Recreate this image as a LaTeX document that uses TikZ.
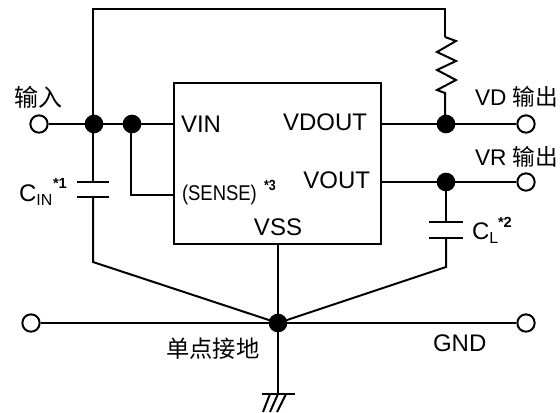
\documentclass[tikz,border=0pt]{standalone}
\usepackage{fontspec}
\setmainfont{Liberation Sans}
\newfontfamily\cjk{Noto Sans CJK SC}
\begin{document}
\begin{tikzpicture}[x=0.75pt, y=-0.75pt, line width=1.5pt,
  dot/.style={circle, fill=black, inner sep=0pt, minimum size=14pt},
  port/.style={circle, draw, fill=white, inner sep=0pt, minimum size=13pt},
  corner/.style={coordinate},
  label/.style={inner sep=0pt, font=\fontsize{18pt}{18pt}\selectfont},
  outlabel/.style={inner sep=0pt, font=\fontsize{17pt}{17pt}\selectfont},
  star/.style={inner sep=0pt, font=\fontsize{11pt}{11pt}\selectfont\bfseries}]

  \useasboundingbox (0,0) rectangle (560,412);

  % IC block
  \node[draw, minimum width=155.25pt, minimum height=120.75pt, inner sep=0pt] (IC) at (277.5,163.5) {};

  % Ports
  \node[port] (IN) at (39,124) {};
  \node[port] (VD) at (526,124) {};
  \node[port] (VR) at (526,182) {};
  \node[port] (GL) at (31,323) {};
  \node[port] (GR) at (526,323) {};

  % Corners
  \node[corner] (T1) at (93,9) {};
  \node[corner] (T2) at (445,9) {};
  \node[corner] (R1) at (445,37) {};
  \node[corner] (R2) at (445,93) {};
  \node[corner] (S1) at (174,195) {};
  \node[corner] (S2) at (131,195) {};
  \node[corner] (PIN) at (174,124) {};
  \node[corner] (POUT) at (381,124) {};
  \node[corner] (POV) at (381,182) {};
  \node[corner] (CI1) at (93,182) {};
  \node[corner] (CI2) at (93,197) {};
  \node[corner] (CI3) at (93,262) {};
  \node[corner] (CL1) at (446,222) {};
  \node[corner] (CL2) at (446,238) {};
  \node[corner] (CL3) at (446,267) {};
  \node[corner] (G0) at (278,394) {};

  % Wires
  \draw (IN) -- (PIN);
  \draw (93,124) -- (T1) -- (T2) -- (R1);
  \draw (R1) -- (456,41) -- (437,52) -- (456,61) -- (437,70) -- (456,80) -- (437,90) -- (R2) -- (445,124);
  \draw (131,124) -- (S2) -- (S1);
  \draw (POUT) -- (VD);
  \draw (POV) -- (VR);
  \draw (93,124) -- (CI1);
  \draw (CI2) -- (CI3) -- (278,323);
  \draw (446,182) -- (CL1);
  \draw (CL2) -- (CL3) -- (278,323);
  \draw (GL) -- (GR);
  \draw (278,244) -- (G0);

  % Junctions
  \node[dot] (J1) at (94,124) {};
  \node[dot] (J2) at (132,124) {};
  \node[dot] (J3) at (446,124) {};
  \node[dot] (J4) at (446,182) {};
  \node[dot] (J5) at (278,323) {};

  % Capacitor plates
  \draw (77,182) -- (109,182);
  \draw (77,197) -- (109,197);
  \draw (429,222) -- (463,222);
  \draw (429,238) -- (463,238);

  % Ground
  \draw (262,394) -- (295,394);
  \draw (270,394) -- (263,412);
  \draw (278,394) -- (270,412);
  \draw (286,394) -- (277,412);

  % Labels
  \node[label, anchor=west] (LVIN) at (180,124) {VIN};
  \node[label, anchor=east] (LVDOUT) at (368,122) {VDOUT};
  \node[label, anchor=east] (LVOUT) at (371,180) {VOUT};
  \node[label] (LVSS) at (278,227) {VSS};
  \node[label, anchor=west, font=\fontsize{16pt}{16pt}\selectfont] (LSENSE) at (181,195) {\scalebox{.865}[1]{(SENSE)}};
  \node[star, anchor=west] (LS3) at (263,185) {\scalebox{.85}[1]{*3}};
  \node[label, anchor=west] (LIN) at (13,97) {\cjk 输入};
  \node[outlabel, anchor=west] (LVD) at (474,97) {VD \cjk 输出};
  \node[outlabel, anchor=west] (LVR) at (474,157) {VR \cjk 输出};
  \node[label, anchor=west] (LGND) at (432,343) {GND};
  \node[outlabel, anchor=west, font=\fontsize{17.5pt}{17.5pt}\selectfont] (LGG) at (165,349) {\cjk 单点接地};
  \node[label, anchor=west] (LCIN) at (18,195) {C\raisebox{-3pt}{\fontsize{12pt}{12pt}\selectfont IN}};
  \node[star, anchor=west] (LS1) at (52,183) {*1};
  \node[label, anchor=west] (LCL) at (471,233) {C\raisebox{-3pt}{\fontsize{12pt}{12pt}\selectfont L}};
  \node[star, anchor=west] (LS2) at (497,222) {*2};

\end{tikzpicture}
\end{document}
